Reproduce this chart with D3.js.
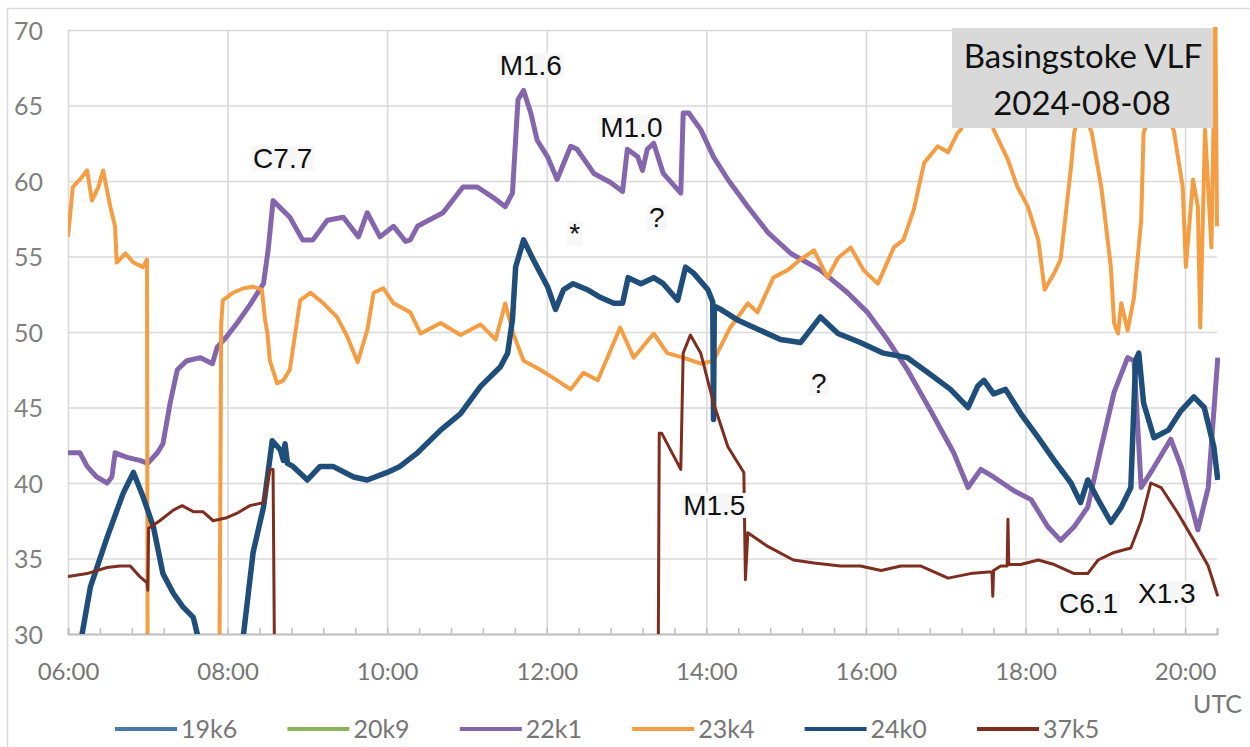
<!DOCTYPE html>
<html>
<head>
<meta charset="utf-8">
<script src="https://cdn.jsdelivr.net/npm/d3@7"></script>
<style>
  body { margin: 0; background: #fff; }
  svg { display: block; }
</style>
</head>
<body>
<div id="chart"></div>
<script>
// series (VLF transmitters) and their colours
const seriesNames  = ["19k6", "20k9", "22k1", "23k4", "24k0", "37k5"];
const seriesColors = ["#4a7aa3", "#8cb45c", "#8466ad", "#f59d43", "#1f4e7a", "#7d2e1e"];
const seriesWidths = [3, 3, 5, 4, 5.5, 3];

const xMajorTicks = [6, 8, 10, 12, 14, 16, 18, 20];
const yTicks = [30, 35, 40, 45, 50, 55, 60, 65, 70];

// [hour UTC, signal level]
const d19k6 = [];
const d20k9 = [];
const d22k1 = [
  [6.00, 42.0], [6.15, 42.0], [6.24, 41.1], [6.36, 40.4], [6.49, 40.0], [6.55, 40.4],
  [6.59, 42.0], [6.74, 41.7], [6.90, 41.5], [7.00, 41.3], [7.12, 42.0], [7.19, 42.6],
  [7.28, 45.3], [7.37, 47.5], [7.49, 48.1], [7.66, 48.3], [7.81, 47.9], [7.87, 49.0],
  [7.99, 49.7], [8.12, 50.6], [8.28, 51.8], [8.45, 53.2], [8.51, 55.5], [8.57, 58.7],
  [8.78, 57.6], [8.94, 56.1], [9.07, 56.1], [9.25, 57.4], [9.45, 57.6], [9.64, 56.3],
  [9.75, 57.9], [9.91, 56.3], [10.08, 57.0], [10.23, 56.0], [10.29, 56.1], [10.38, 57.0],
  [10.45, 57.2], [10.70, 57.9], [10.95, 59.6], [11.13, 59.6], [11.33, 58.9], [11.48, 58.3],
  [11.57, 59.2], [11.64, 65.4], [11.71, 66.0], [11.80, 64.5], [11.88, 62.7], [12.01, 61.6],
  [12.13, 60.1], [12.30, 62.3], [12.38, 62.1], [12.59, 60.5], [12.80, 59.9], [12.95, 59.3],
  [13.01, 62.1], [13.14, 61.6], [13.20, 60.7], [13.26, 62.1], [13.34, 62.5], [13.46, 60.5],
  [13.68, 59.2], [13.71, 64.5], [13.78, 64.5], [13.93, 63.4], [14.09, 61.6], [14.27, 60.1],
  [14.52, 58.3], [14.77, 56.6], [15.06, 55.2], [15.43, 54.1], [15.77, 52.6], [16.02, 51.3],
  [16.27, 49.5], [16.52, 47.5], [16.81, 44.8], [17.10, 42.0], [17.28, 39.7], [17.44, 40.9],
  [17.60, 40.4], [17.85, 39.5], [18.07, 38.9], [18.28, 37.1], [18.44, 36.2], [18.61, 37.1],
  [18.78, 38.4], [18.95, 42.4], [19.11, 46.0], [19.28, 48.3], [19.36, 48.1], [19.45, 39.7],
  [19.57, 40.7], [19.82, 42.9], [19.95, 41.1], [20.16, 36.9], [20.29, 39.7], [20.41, 48.3]
];
const d23k4 = [
  [6.00, 56.3], [6.06, 59.6], [6.15, 60.1], [6.24, 60.7], [6.30, 58.7], [6.38, 59.6],
  [6.44, 60.7], [6.53, 58.3], [6.59, 57.0], [6.61, 54.6], [6.72, 55.2], [6.82, 54.6],
  [6.94, 54.3], [6.99, 54.8], [7.00, 20.0], [7.89, 20.0], [7.92, 50.5], [7.94, 52.1],
  [8.07, 52.6], [8.20, 52.9], [8.32, 53.0], [8.43, 52.8], [8.47, 50.8], [8.50, 49.9],
  [8.53, 48.1], [8.62, 46.6], [8.70, 46.8], [8.78, 47.5], [8.91, 52.1], [9.04, 52.6],
  [9.20, 51.9], [9.37, 51.0], [9.50, 49.7], [9.63, 48.0], [9.75, 50.1], [9.83, 52.6],
  [9.95, 52.9], [10.08, 51.9], [10.29, 51.3], [10.42, 49.9], [10.67, 50.6], [10.92, 49.8],
  [11.17, 50.5], [11.36, 49.5], [11.48, 51.9], [11.58, 49.9], [11.71, 48.1], [11.92, 47.5],
  [12.13, 46.8], [12.30, 46.2], [12.46, 47.3], [12.64, 46.8], [12.76, 48.3], [12.92, 50.3],
  [13.09, 48.3], [13.34, 49.9], [13.51, 48.6], [13.71, 48.3], [13.93, 47.9], [14.09, 48.1],
  [14.30, 50.3], [14.52, 51.9], [14.64, 51.3], [14.84, 53.6], [15.02, 54.1], [15.18, 54.8],
  [15.35, 55.4], [15.52, 53.6], [15.65, 54.9], [15.81, 55.6], [15.97, 54.1], [16.15, 53.2],
  [16.35, 55.6], [16.47, 56.1], [16.60, 58.1], [16.73, 61.2], [16.90, 62.3], [17.03, 61.9],
  [17.15, 63.2], [17.19, 63.4], [17.32, 65.5], [17.50, 66.0], [17.60, 63.4], [17.78, 61.4],
  [17.90, 59.6], [18.03, 58.3], [18.16, 56.1], [18.24, 52.8], [18.36, 53.9], [18.44, 54.8],
  [18.57, 60.9], [18.61, 63.2], [18.70, 65.0], [18.83, 63.2], [18.95, 59.6], [19.07, 54.3],
  [19.11, 50.6], [19.16, 49.9], [19.20, 51.9], [19.28, 50.1], [19.36, 52.3], [19.45, 57.4],
  [19.48, 63.2], [19.67, 66.0], [19.86, 63.3], [19.97, 59.6], [20.01, 54.3], [20.10, 60.1],
  [20.16, 58.3], [20.19, 50.3], [20.25, 63.4], [20.33, 55.6], [20.38, 71.0], [20.40, 57.0]
];
const d24k0 = [
  [6.00, 25.0], [6.18, 30.1], [6.28, 33.1], [6.49, 36.4], [6.69, 39.3], [6.82, 40.7],
  [6.94, 39.1], [7.07, 37.1], [7.19, 34.0], [7.32, 32.7], [7.44, 31.8], [7.57, 31.1],
  [7.62, 30.0], [7.66, 27.0], [8.16, 27.0], [8.20, 30.0], [8.32, 35.4], [8.45, 38.4],
  [8.56, 42.8], [8.66, 42.2], [8.70, 41.5], [8.72, 42.6], [8.75, 41.3], [8.82, 41.1],
  [9.00, 40.2], [9.16, 41.1], [9.32, 41.1], [9.58, 40.4], [9.75, 40.2], [10.00, 40.7],
  [10.16, 41.1], [10.38, 42.0], [10.67, 43.5], [10.92, 44.6], [11.17, 46.4], [11.42, 47.7],
  [11.51, 48.6], [11.57, 50.8], [11.61, 54.3], [11.71, 56.1], [11.83, 54.8], [12.01, 53.0],
  [12.11, 51.5], [12.21, 52.8], [12.33, 53.2], [12.51, 52.8], [12.67, 52.3], [12.84, 51.9],
  [12.95, 51.9], [13.02, 53.6], [13.18, 53.2], [13.34, 53.6], [13.46, 53.2], [13.64, 52.1],
  [13.74, 54.3], [13.84, 53.9], [14.02, 52.8], [14.08, 52.0], [14.09, 44.2], [14.10, 51.7],
  [14.18, 51.5], [14.39, 50.8], [14.68, 50.1], [14.93, 49.5], [15.18, 49.3], [15.43, 51.0],
  [15.65, 49.9], [15.93, 49.3], [16.22, 48.6], [16.52, 48.3], [16.78, 47.3], [17.06, 46.2],
  [17.28, 45.0], [17.40, 46.4], [17.48, 46.8], [17.60, 45.9], [17.75, 46.2], [17.94, 44.6],
  [18.16, 43.0], [18.36, 41.5], [18.57, 40.0], [18.69, 38.7], [18.78, 40.2], [18.91, 38.9],
  [19.07, 37.4], [19.20, 38.4], [19.32, 39.7], [19.38, 48.1], [19.42, 48.6], [19.48, 45.3],
  [19.61, 43.0], [19.79, 43.5], [19.95, 44.8], [20.11, 45.7], [20.24, 45.0], [20.36, 42.4],
  [20.41, 40.2]
];
const d37k5 = [
  [6.00, 33.8], [6.24, 34.0], [6.49, 34.4], [6.65, 34.5], [6.78, 34.5], [6.90, 33.8],
  [6.99, 33.4], [7.00, 32.9], [7.01, 37.0], [7.15, 37.5], [7.32, 38.2], [7.43, 38.5],
  [7.57, 38.1], [7.69, 38.1], [7.82, 37.5], [7.99, 37.7], [8.12, 38.0], [8.28, 38.5],
  [8.45, 38.7], [8.53, 40.9], [8.57, 40.9], [8.60, 20.0], [13.39, 20.0], [13.41, 43.3],
  [13.44, 43.3], [13.68, 40.9], [13.71, 48.6], [13.80, 49.8], [13.93, 48.6], [14.09, 45.3],
  [14.27, 42.4], [14.47, 40.7], [14.49, 33.6], [14.52, 36.7], [14.77, 35.8], [15.09, 34.9],
  [15.35, 34.7], [15.68, 34.5], [15.93, 34.5], [16.19, 34.2], [16.44, 34.5], [16.69, 34.5],
  [17.03, 33.7], [17.31, 34.0], [17.53, 34.1], [17.58, 34.1], [17.59, 32.5], [17.60, 34.2],
  [17.69, 34.5], [17.77, 34.5], [17.78, 37.6], [17.79, 34.6], [17.94, 34.6], [18.16, 34.9],
  [18.36, 34.6], [18.61, 34.0], [18.78, 34.0], [18.91, 34.9], [19.11, 35.4], [19.32, 35.7],
  [19.45, 37.5], [19.57, 40.0], [19.70, 39.7], [19.91, 38.0], [20.11, 36.2], [20.29, 34.5],
  [20.41, 32.5]
];
const seriesData = [d19k6, d20k9, d22k1, d23k4, d24k0, d37k5];

// flare notes placed on the chart
const noteTexts  = ["C7.7", "M1.6", "M1.0", "*", "?", "?", "M1.5", "C6.1", "X1.3"];
const noteHours  = [8.32, 11.41, 12.67, 12.35, 13.38, 15.41, 13.71, 18.42, 19.41];
const noteValues = [60.86, 67.02, 62.91, 55.89, 56.95, 45.96, 37.88, 31.39, 32.05];
const noteAnchor = ["start", "start", "start", "middle", "middle", "middle", "start", "start", "start"];

const W = 1250, H = 747;
const plot = { left: 68, right: 1217, top: 30, bottom: 634 };

const svg = d3.select("#chart").append("svg")
  .attr("width", W)
  .attr("height", H);

// chart frame
svg.append("rect")
  .attr("x", 7.5).attr("y", 8.5)
  .attr("width", W).attr("height", H)
  .attr("fill", "none")
  .attr("stroke", "#d9d9d9")
  .attr("stroke-width", 1.5);

const x = d3.scaleLinear().domain([6, 20.4]).range([plot.left, plot.right]);
const y = d3.scaleLinear().domain([30, 70]).range([plot.bottom, plot.top]);

// horizontal gridlines + y labels
const yAxis = svg.append("g")
  .attr("transform", `translate(${plot.left},0)`)
  .call(d3.axisLeft(y).tickValues(yTicks).tickSize(-(plot.right - plot.left)).tickPadding(25));
yAxis.select(".domain").remove();
yAxis.selectAll("line").attr("stroke", "#d9d9d9").attr("stroke-width", 1.6);
yAxis.selectAll("text")
  .attr("dy", "0.36em")
  .style("font-family", "Lato, sans-serif")
  .style("font-size", "25px")
  .attr("fill", "#7f7f7f");

// vertical gridlines + time labels
const xAxis = svg.append("g")
  .attr("transform", `translate(0,${plot.bottom})`)
  .call(d3.axisBottom(x).tickValues(xMajorTicks)
    .tickSize(-(plot.bottom - plot.top))
    .tickPadding(29)
    .tickFormat(d => d3.format("02")(d) + ":00"));
xAxis.select(".domain").remove();
xAxis.selectAll("line").attr("stroke", "#d9d9d9").attr("stroke-width", 1.6);
xAxis.selectAll("text")
  .style("font-family", "Lato, sans-serif")
  .style("font-size", "24px")
  .attr("fill", "#767676");

// minor tick marks every 24 minutes
const minor = svg.append("g")
  .attr("transform", `translate(0,${plot.bottom})`)
  .call(d3.axisBottom(x).tickValues(d3.range(6, 20.41, 0.4)).tickSize(-6).tickFormat(""));
minor.select(".domain").attr("stroke", "#bfbfbf").attr("stroke-width", 2);
minor.selectAll("line").attr("stroke", "#bfbfbf").attr("stroke-width", 1.5);

svg.append("text")
  .attr("x", 1193).attr("y", 713)
  .style("font-family", "Lato, sans-serif")
  .style("font-size", "25px")
  .attr("fill", "#767676")
  .text("UTC");

// data lines
svg.append("clipPath").attr("id", "plot-clip")
  .append("rect")
  .attr("x", plot.left).attr("y", plot.top - 3)
  .attr("width", plot.right - plot.left + 3)
  .attr("height", plot.bottom - plot.top + 3);

const line = d3.line()
  .x(d => x(d[0]))
  .y(d => y(d[1]));

svg.append("g")
  .attr("clip-path", "url(#plot-clip)")
  .selectAll("path")
  .data(seriesData)
  .join("path")
    .attr("d", d => line(d))
    .attr("fill", "none")
    .attr("stroke", (d, i) => seriesColors[i])
    .attr("stroke-width", (d, i) => seriesWidths[i])
    .attr("stroke-linejoin", "round");

// flare notes
const notes = svg.append("g")
  .selectAll("g")
  .data(noteTexts)
  .join("g");
notes.append("text")
  .attr("x", (d, i) => x(noteHours[i]))
  .attr("y", (d, i) => y(noteValues[i]))
  .attr("text-anchor", (d, i) => noteAnchor[i])
  .style("font-family", "'Liberation Sans', Arial, sans-serif")
  .style("font-size", "28px")
  .attr("fill", "#111")
  .text(d => d);
notes.each(function() {
  const g = d3.select(this);
  const b = g.select("text").node().getBBox();
  g.insert("rect", "text")
    .attr("x", b.x - 2).attr("y", b.y + 3)
    .attr("width", b.width + 4).attr("height", b.height - 6)
    .attr("fill", "#f7f7f7");
});

// title box
svg.append("rect")
  .attr("x", 952).attr("y", 28)
  .attr("width", 261).attr("height", 100)
  .attr("fill", "#d9d9d9");
svg.append("text")
  .attr("x", 1083).attr("y", 68)
  .attr("text-anchor", "middle")
  .style("font-family", "Lato, sans-serif")
  .style("font-size", "33px")
  .attr("fill", "#111")
  .text("Basingstoke VLF");
svg.append("text")
  .attr("x", 1082).attr("y", 115)
  .attr("text-anchor", "middle")
  .style("font-family", "Lato, sans-serif")
  .style("font-size", "33px")
  .attr("fill", "#111")
  .text("2024-08-08");

// legend
const legend = svg.append("g")
  .selectAll("g")
  .data(seriesNames)
  .join("g")
    .attr("transform", (d, i) => `translate(${115 + i * 172.4},729)`);
legend.append("line")
  .attr("x1", 0).attr("x2", 62)
  .attr("stroke", (d, i) => seriesColors[i])
  .attr("stroke-width", 4);
legend.append("text")
  .attr("x", 66).attr("y", 9)
  .style("font-family", "Lato, sans-serif")
  .style("font-size", "25px")
  .attr("fill", "#767676")
  .text(d => d);
</script>
</body>
</html>
